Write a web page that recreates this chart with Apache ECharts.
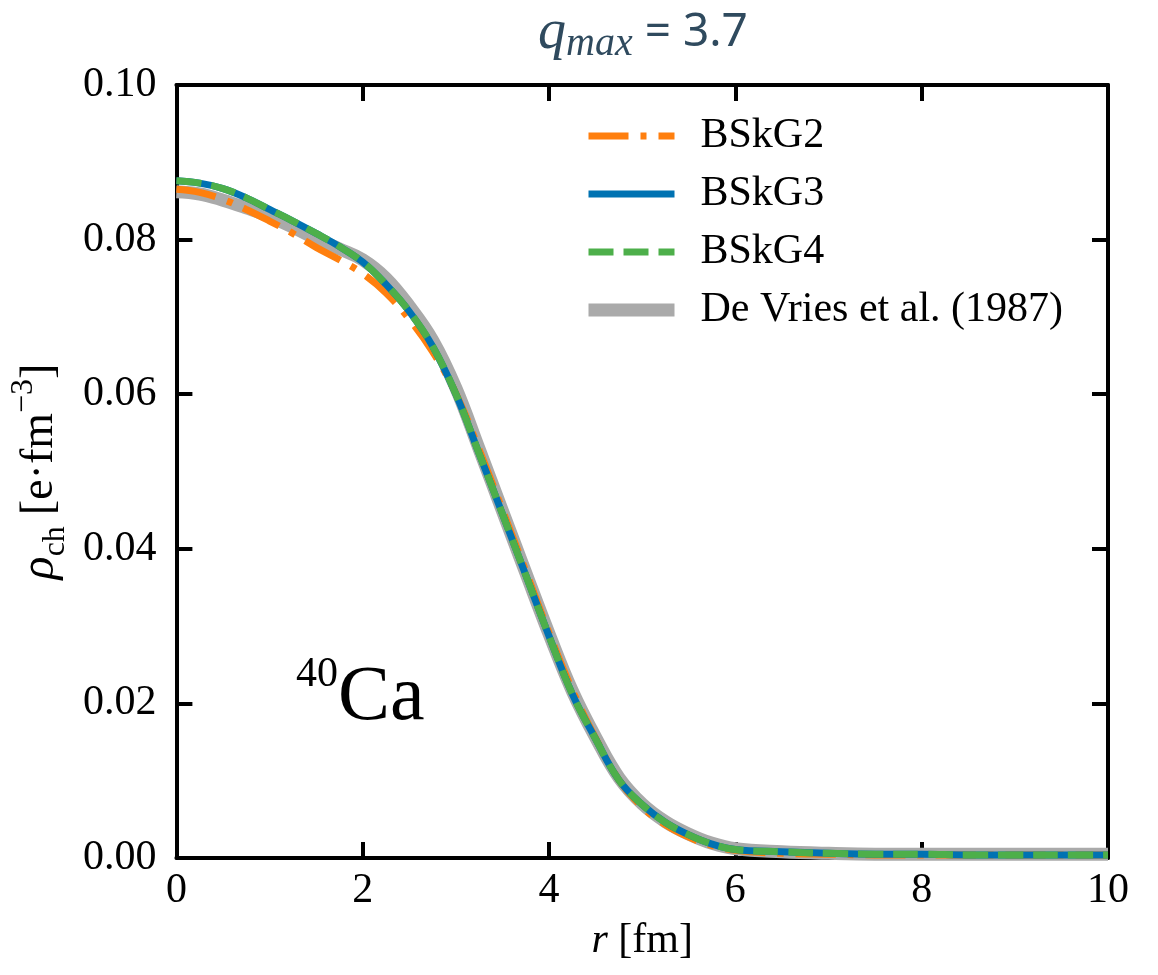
<!DOCTYPE html>
<html>
<head>
<meta charset="utf-8">
<script src="https://cdn.jsdelivr.net/npm/echarts@6/dist/echarts.min.js"></script>
<style>
html,body{margin:0;padding:0;background:#fff;}
#chart{width:1158px;height:975px;}
</style>
</head>
<body>
<div id="chart"></div>
<script>
// radius r [fm]
const radius = [0,0.25,0.5,0.75,1,1.25,1.5,1.75,2,2.25,2.5,2.75,3,3.25,3.5,3.75,4,4.25,4.5,4.75,5,5.25,5.5,5.75,6,6.5,7,7.5,8,8.5,9,9.5,10];
// charge densities [e fm^-3]
const bskg2 = [0.0865,0.0861,0.0852,0.0839,0.0824,0.0808,0.0790,0.0774,0.0756,0.0731,0.0697,0.0655,0.0601,0.0528,0.0450,0.0371,0.0291,0.0217,0.0155,0.0101,0.0066,0.0043,0.0027,0.0016,0.0010,0.0006,0.0005,0.0004,0.0004,0.0004,0.0004,0.0004,0.0004];
const bskg3 = [0.0876,0.0873,0.0866,0.0854,0.0839,0.0824,0.0808,0.0791,0.0771,0.0742,0.0707,0.0662,0.0600,0.0523,0.0445,0.0366,0.0287,0.0212,0.0154,0.0101,0.0069,0.0046,0.0030,0.0018,0.0011,0.0008,0.0006,0.0005,0.0005,0.0004,0.0004,0.0004,0.0004];
const bskg4 = [0.0876,0.0873,0.0866,0.0854,0.0839,0.0824,0.0808,0.0791,0.0771,0.0742,0.0707,0.0662,0.0600,0.0523,0.0445,0.0366,0.0287,0.0212,0.0154,0.0101,0.0069,0.0046,0.0030,0.0018,0.0011,0.0008,0.0006,0.0005,0.0005,0.0004,0.0004,0.0004,0.0004];
const devries = [0.0862,0.0859,0.0851,0.0841,0.0830,0.0816,0.0801,0.0788,0.0774,0.0750,0.0714,0.0670,0.0608,0.0529,0.0449,0.0369,0.0290,0.0216,0.0156,0.0104,0.0070,0.0047,0.0031,0.0019,0.0012,0.0008,0.0006,0.0005,0.0005,0.0005,0.0005,0.0005,0.0005];

const xTicks = {min:0, max:10, interval:2};
const yTicks = {min:0, max:0.10, interval:0.02};

const FONT = "'Liberation Serif','DejaVu Serif',serif";
const pair = (ys) => radius.map((r,i)=>[r, ys[i]]);

const C_ORANGE = '#ff7f0e', C_BLUE = '#0072b2', C_GREEN = '#4daf4a', C_GREY = '#aaaaaa';
const dashDot = [40,12,6,12];
const dashed = [25,10];
const noSym = {color:'rgba(0,0,0,0)', borderWidth:0, opacity:0};

const chart = echarts.init(document.getElementById('chart'), null, {renderer:'canvas'});

const axisCommon = {
  axisLine:{show:true, onZero:false, lineStyle:{color:'#000', width:4}},
  axisTick:{show:true, inside:true, length:16, lineStyle:{color:'#000', width:4}},
  splitLine:{show:false},
  minorTick:{show:false}
};

const option = {
  animation:false,
  backgroundColor:'#fff',
  grid:{left:174, right:50, top:85, bottom:117, containLabel:false},
  legend:{
    orient:'vertical', left:582, top:115, padding:0,
    itemWidth:86, itemHeight:14, itemGap:16,
    textStyle:{fontFamily:FONT, fontSize:42, color:'#000', padding:[0,0,0,21]},
    data:[
      {name:'BSkG2', lineStyle:{width:7, type:dashDot, color:C_ORANGE}, itemStyle:noSym},
      {name:'BSkG3', lineStyle:{width:7, color:C_BLUE}, itemStyle:noSym},
      {name:'BSkG4', lineStyle:{width:7, type:dashed, color:C_GREEN}, itemStyle:noSym},
      {name:'De Vries et al. (1987)', lineStyle:{width:13, color:C_GREY}, itemStyle:noSym}
    ]
  },
  xAxis:[
    Object.assign({type:'value', position:'bottom', min:xTicks.min, max:xTicks.max, interval:xTicks.interval,
      axisLabel:{fontFamily:FONT, fontSize:42, color:'#000', margin:12},
      name:'{i|r} [fm]', nameLocation:'middle', nameGap:62,
      nameTextStyle:{fontFamily:FONT, fontSize:42, color:'#000',
        rich:{i:{fontFamily:FONT, fontSize:42, fontStyle:'italic', color:'#000'}}}
    }, axisCommon),
    Object.assign({type:'value', position:'top', min:xTicks.min, max:xTicks.max, interval:xTicks.interval,
      axisLabel:{show:false}}, axisCommon)
  ],
  yAxis:[
    Object.assign({type:'value', position:'left', min:yTicks.min, max:yTicks.max, interval:yTicks.interval,
      axisLabel:{fontFamily:FONT, fontSize:42, color:'#000', margin:20, formatter:(v)=>v.toFixed(2)},
      name:'{g|ρ}{sub|ch} {t|[e·fm}{sup|−3}{t|]}', nameLocation:'middle', nameRotate:90, nameGap:88,
      nameTextStyle:{fontFamily:FONT, fontSize:44, color:'#000',
        rich:{
          g:{fontFamily:FONT, fontSize:48, fontStyle:'italic', color:'#000', lineHeight:64, verticalAlign:'middle'},
          t:{fontFamily:FONT, fontSize:46, color:'#000', lineHeight:64, verticalAlign:'middle'},
          sub:{fontFamily:FONT, fontSize:32, color:'#000', lineHeight:64, verticalAlign:'bottom'},
          sup:{fontFamily:FONT, fontSize:32, color:'#000', lineHeight:64, verticalAlign:'top'}
        }}
    }, axisCommon),
    Object.assign({type:'value', position:'right', min:yTicks.min, max:yTicks.max, interval:yTicks.interval,
      axisLabel:{show:false}}, axisCommon)
  ],
  series:[
    {name:'De Vries et al. (1987)', type:'line', data:pair(devries), symbol:'none', showSymbol:false, smooth:0.4,
      lineStyle:{color:C_GREY, width:13}, itemStyle:{color:C_GREY}, z:2},
    {name:'BSkG2', type:'line', data:pair(bskg2), symbol:'none', showSymbol:false, smooth:0.4,
      lineStyle:{color:C_ORANGE, width:7, type:dashDot, cap:'butt'}, itemStyle:{color:C_ORANGE}, z:3},
    {name:'BSkG3', type:'line', data:pair(bskg3), symbol:'none', showSymbol:false, smooth:0.4,
      lineStyle:{color:C_BLUE, width:7}, itemStyle:{color:C_BLUE}, z:4},
    {name:'BSkG4', type:'line', data:pair(bskg4), symbol:'none', showSymbol:false, smooth:0.4,
      lineStyle:{color:C_GREEN, width:7, type:dashed, cap:'butt'}, itemStyle:{color:C_GREEN}, z:5}
  ],
  graphic:[
    {type:'text', x:643, y:2, style:{
      text:'{q|q}{s|max}{t| = 3.7}', align:'center',
      rich:{
        q:{fontFamily:FONT, fontSize:56, fontStyle:'italic', fill:'#2f4a5e', lineHeight:62, verticalAlign:'middle'},
        s:{fontFamily:FONT, fontSize:40, fontStyle:'italic', fill:'#2f4a5e', lineHeight:62, verticalAlign:'bottom'},
        t:{fontFamily:"'Noto Sans','Liberation Sans',sans-serif", fontSize:46, fill:'#2f4a5e', lineHeight:62, verticalAlign:'middle'}
      }}},
    {type:'text', x:296, y:654, style:{
      text:'{s|40}{b|Ca}',
      rich:{
        s:{fontFamily:FONT, fontSize:42, fill:'#000', lineHeight:90, verticalAlign:'top'},
        b:{fontFamily:FONT, fontSize:78, fill:'#000', lineHeight:90, verticalAlign:'middle'}
      }}}
  ]
};
chart.setOption(option);
</script>
</body>
</html>
